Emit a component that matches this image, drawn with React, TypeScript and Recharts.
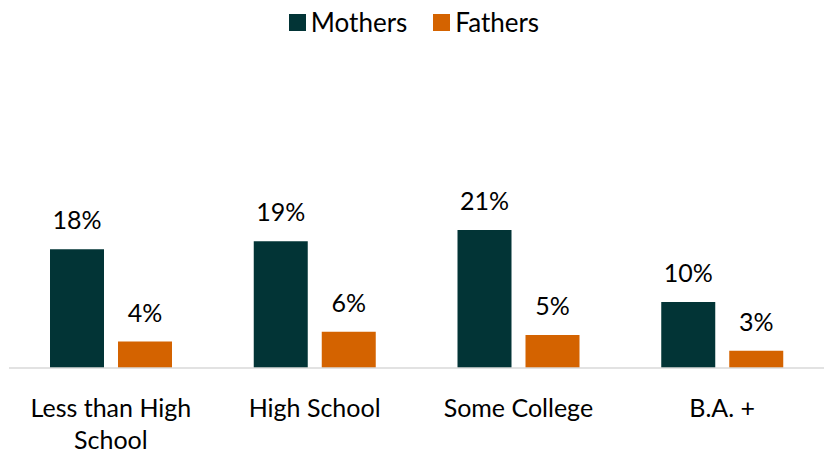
import { Bar, BarChart, LabelList, XAxis, YAxis } from "recharts";

const categories = ["Less than High School", "High School", "Some College", "B.A. +"];
const mothers = [18.0, 19.2, 20.9, 10.0];
const fathers = [4.0, 5.5, 5.0, 2.6];
const seriesNames = ["Mothers", "Fathers"];
const seriesColors = ["#023436", "#d46300"];

const data = categories.map((name, i) => ({ name, mothers: mothers[i], fathers: fathers[i] }));

const FONT = "Lato, 'Open Sans', sans-serif";

function pct(value: unknown): string {
  return `${Math.round(Number(value))}%`;
}

// greedy word wrap, the measuring in <Text> doesn't work reliably here
function wrapWords(label: string, maxChars: number): string[] {
  const lines: string[] = [];
  let cur = "";
  for (const w of label.split(" ")) {
    const next = cur ? `${cur} ${w}` : w;
    if (next.length > maxChars && cur) {
      lines.push(cur);
      cur = w;
    } else {
      cur = next;
    }
  }
  if (cur) lines.push(cur);
  return lines;
}

function CategoryTick(props: any) {
  const { x, payload } = props;
  const lines = wrapWords(String(payload.value), 14);
  return (
    <text x={x} y={417} textAnchor="middle" fontSize={25} fontFamily={FONT} fill="#000">
      {lines.map((line, i) => (
        <tspan key={i} x={x} dy={i === 0 ? 0 : 32}>
          {line}
        </tspan>
      ))}
    </text>
  );
}

function TopLegend() {
  return (
    <div
      style={{
        position: "absolute",
        top: 6,
        left: 0,
        width: 828,
        display: "flex",
        justifyContent: "center",
        gap: 26,
        fontFamily: FONT,
        fontSize: 26,
        lineHeight: "32px",
        color: "#000",
      }}
    >
      {seriesNames.map((n, i) => (
        <div key={n} style={{ display: "flex", alignItems: "center", gap: 5 }}>
          <span style={{ width: 17, height: 17, background: seriesColors[i], display: "inline-block" }} />
          <span>{n}</span>
        </div>
      ))}
    </div>
  );
}

export default function App() {
  return (
    <div style={{ position: "absolute", left: 0, top: 0, width: 828, height: 455, background: "#fff" }}>
      <TopLegend />
      <BarChart
        width={828}
        height={455}
        data={data}
        margin={{ top: 203, right: 4, left: 9, bottom: 0 }}
        barSize={54}
        barGap={14}
      >
        <XAxis
          dataKey="name"
          height={87}
          axisLine={{ stroke: "#d9d9d9", strokeWidth: 1.5 }}
          tickLine={false}
          interval={0}
          tick={<CategoryTick />}
        />
        <YAxis hide domain={[0, 25]} />
        <Bar dataKey="mothers" name={seriesNames[0]} fill={seriesColors[0]} isAnimationActive={false}>
          <LabelList dataKey="mothers" position="top" offset={20} formatter={pct} fontSize={25} fontFamily={FONT} fill="#000" />
        </Bar>
        <Bar dataKey="fathers" name={seriesNames[1]} fill={seriesColors[1]} isAnimationActive={false}>
          <LabelList dataKey="fathers" position="top" offset={20} formatter={pct} fontSize={25} fontFamily={FONT} fill="#000" />
        </Bar>
      </BarChart>
    </div>
  );
}
